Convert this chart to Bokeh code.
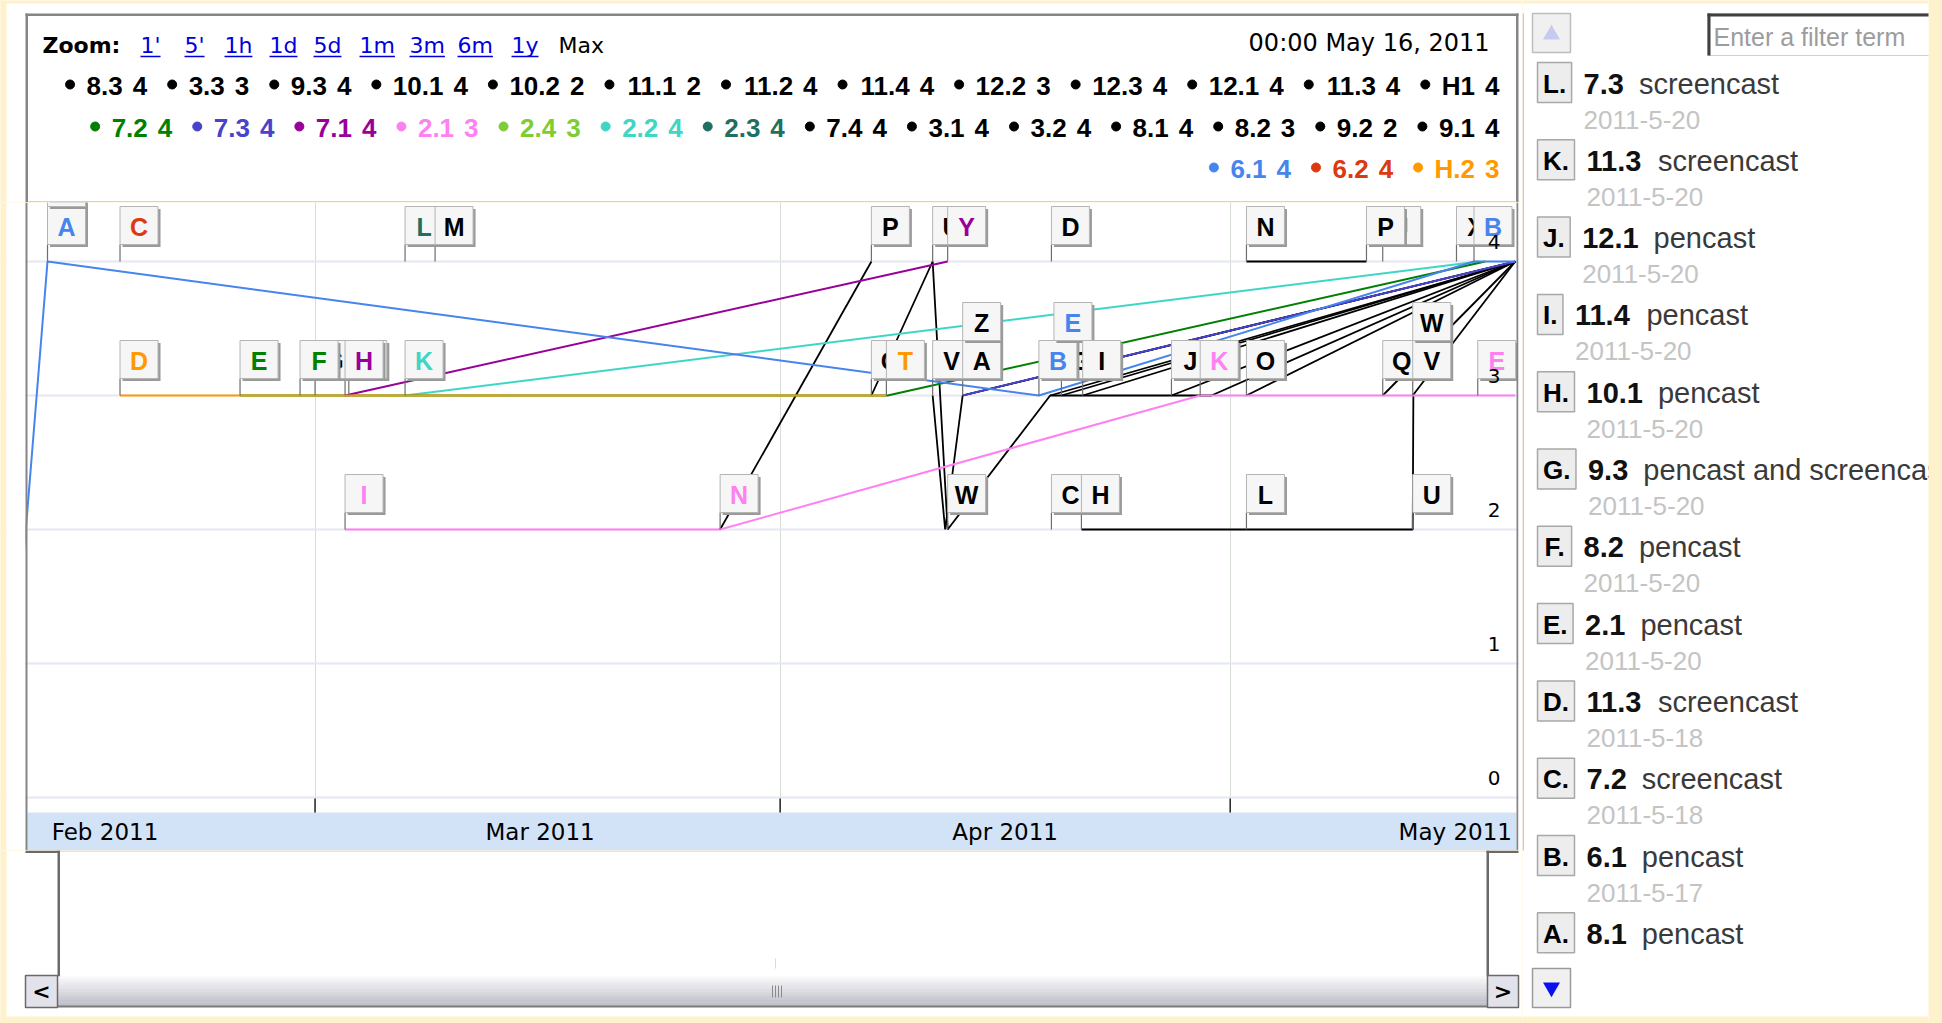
import numpy as np
import pandas as pd
from bokeh.plotting import figure
from bokeh.layouts import row, column
from bokeh.models import Range1d, FixedTicker
from bokeh.core.properties import value
from bokeh.embed import file_html
from bokeh.resources import INLINE

# ======================= DATA =======================
# each series: dates and values (status level 0..4)
s61_dates = ["2011-02-09", "2011-02-11 04:00", "2011-04-18 06:00", "2011-05-17 06:00", "2011-05-20"]
s61_vals = [1, 4, 3, 4, 4]
s62_dates = ["2011-02-16"]
s62_vals = [4]
sH2_dates = ["2011-02-16", "2011-04-08 02:00"]
sH2_vals = [3, 3]
s72_dates = ["2011-02-24", "2011-02-28", "2011-04-08 04:00", "2011-05-18"]
s72_vals = [3, 3, 3, 4]
s73_dates = ["2011-04-13 04:00", "2011-05-20"]
s73_vals = [3, 4]
s71_dates = ["2011-03-03", "2011-04-12 04:00"]
s71_vals = [3, 4]
s21_dates = ["2011-03-03", "2011-03-28", "2011-04-29", "2011-05-17 12:00", "2011-05-20"]
s21_vals = [2, 2, 3, 3, 3]
s24_dates = ["2011-05-20"]
s24_vals = [3]
s22_dates = ["2011-03-07", "2011-05-17 14:00"]
s22_vals = [3, 4]
s23_dates = ["2011-03-07"]
s23_vals = [4]
s74_dates = ["2011-04-07 02:00", "2011-04-11 04:00", "2011-04-12 04:00", "2011-04-19", "2011-05-20"]
s74_vals = [3, 4, 2, 3, 4]
s31_dates = ["2011-04-11 04:00", "2011-04-12", "2011-04-13 04:00", "2011-05-20"]
s31_vals = [3, 2, 3, 4]
s32_dates = ["2011-03-01"]
s32_vals = [3]
s81_dates = ["2011-04-13 04:00", "2011-05-20"]
s81_vals = [3, 4]
s82_dates = ["2011-04-19 18:00", "2011-05-20"]
s82_vals = [3, 4]
s92_dates = ["2011-04-19 02:00"]
s92_vals = [2]
s91_dates = ["2011-03-03 06:00"]
s91_vals = [3]
s83_dates = ["2011-03-09"]
s83_vals = [4]
s33_dates = ["2011-03-28", "2011-04-07 02:00"]
s33_vals = [2, 4]
s93_dates = ["2011-04-19", "2011-04-29 18:00", "2011-05-20"]
s93_vals = [3, 3, 4]
s101_dates = ["2011-04-21 04:00", "2011-05-20"]
s101_vals = [3, 4]
s102_dates = ["2011-04-21 02:00", "2011-05-02 02:00", "2011-05-13 04:00", "2011-05-13 05:00"]
s102_vals = [2, 2, 2, 3]
s111_dates = ["2011-05-02 02:00", "2011-05-20"]
s111_vals = [3, 4]
s112_dates = ["2011-05-02 02:00", "2011-05-10 02:00"]
s112_vals = [4, 4]
s114_dates = ["2011-05-11 04:00", "2011-05-20"]
s114_vals = [3, 4]
s122_dates = ["2011-04-27 02:00", "2011-05-20"]
s122_vals = [3, 4]
s123_dates = ["2011-05-13 04:00", "2011-05-20"]
s123_vals = [3, 4]
s121_dates = ["2011-04-19 02:00"]
s121_vals = [4]
s113_dates = ["2011-05-11 04:00"]
s113_vals = [4]
sH1_dates = ["2011-05-16 02:00"]
sH1_vals = [4]

# drawing order (first drawn = bottom)
SERIES = [
    ("8.3", s83_dates, s83_vals), ("3.3", s33_dates, s33_vals), ("9.3", s93_dates, s93_vals),
    ("10.1", s101_dates, s101_vals), ("10.2", s102_dates, s102_vals), ("11.1", s111_dates, s111_vals),
    ("11.2", s112_dates, s112_vals), ("11.4", s114_dates, s114_vals), ("12.2", s122_dates, s122_vals),
    ("12.3", s123_dates, s123_vals), ("12.1", s121_dates, s121_vals), ("11.3", s113_dates, s113_vals),
    ("H1", sH1_dates, sH1_vals), ("7.4", s74_dates, s74_vals), ("3.1", s31_dates, s31_vals),
    ("3.2", s32_dates, s32_vals), ("8.1", s81_dates, s81_vals), ("8.2", s82_dates, s82_vals),
    ("9.2", s92_dates, s92_vals), ("9.1", s91_dates, s91_vals), ("2.3", s23_dates, s23_vals),
    ("2.2", s22_dates, s22_vals), ("2.4", s24_dates, s24_vals), ("7.3", s73_dates, s73_vals),
    ("7.2", s72_dates, s72_vals), ("7.1", s71_dates, s71_vals), ("2.1", s21_dates, s21_vals),
    ("6.2", s62_dates, s62_vals), ("H.2", sH2_dates, sH2_vals), ("6.1", s61_dates, s61_vals),
]

# legend (reading order) with the values shown for the hovered date
LEGEND_NAMES = ["8.3", "3.3", "9.3", "10.1", "10.2", "11.1", "11.2", "11.4", "12.2", "12.3", "12.1", "11.3", "H1",
                "7.2", "7.3", "7.1", "2.1", "2.4", "2.2", "2.3", "7.4", "3.1", "3.2", "8.1", "8.2", "9.2", "9.1",
                "6.1", "6.2", "H.2"]
LEGEND_VALUES = [4, 3, 4, 4, 2, 2, 4, 4, 3, 4, 4, 4, 4,
                 4, 4, 4, 3, 3, 4, 4, 4, 4, 4, 4, 3, 2, 4,
                 4, 4, 3]
HOVER_DATE_TEXT = "00:00 May 16, 2011"

# annotation flags on the chart (listed in drawing order)
FLAG_SERIES = ["6.1", "6.1", "6.2", "H.2", "7.2", "3.2", "7.2", "9.1", "2.1", "7.1", "2.2", "2.3", "8.3",
               "2.1", "7.4", "3.3", "H.2", "7.4", "3.1", "7.4", "7.1", "8.1", "8.1", "8.2", "6.1", "6.1",
               "12.1", "9.2", "10.1", "10.2", "12.2", "2.1", "11.1", "11.2", "10.2", "11.3", "11.2",
               "11.4", "10.2", "12.3", "12.3", "H1", "6.1", "2.1"]
FLAG_DATES = ["2011-02-11 04:00", "2011-02-11 04:00", "2011-02-16", "2011-02-16", "2011-02-24",
              "2011-03-01", "2011-02-28", "2011-03-03 06:00", "2011-03-03", "2011-03-03", "2011-03-07",
              "2011-03-07", "2011-03-09", "2011-03-28", "2011-04-07 02:00", "2011-04-07 02:00",
              "2011-04-08 02:00", "2011-04-11 04:00", "2011-04-11 04:00", "2011-04-12 04:00",
              "2011-04-12 04:00", "2011-04-13 04:00", "2011-04-13 04:00", "2011-04-19 18:00",
              "2011-04-18 06:00", "2011-04-19 06:00", "2011-04-19 02:00", "2011-04-19 02:00",
              "2011-04-21 04:00", "2011-04-21 02:00", "2011-04-27 02:00", "2011-04-29", "2011-05-02 02:00",
              "2011-05-02 02:00", "2011-05-02 02:00", "2011-05-11 04:00", "2011-05-10 02:00",
              "2011-05-11 04:00", "2011-05-13 04:00", "2011-05-13 04:00", "2011-05-13 04:00",
              "2011-05-16 02:00", "2011-05-17 06:00", "2011-05-17 12:00"]
FLAG_LETTERS = ["A", "B", "C", "D", "E", "G", "F", "J", "I", "H", "K", "L", "M",
                "N", "O", "P", "T", "U", "V", "W", "Y", "A", "Z", "G", "B", "E",
                "D", "C", "I", "H", "J", "K", "O", "N", "L", "J", "P",
                "Q", "U", "V", "W", "X", "B", "E"]

# axis
MONTH_STARTS = ["2011-03-01", "2011-04-01", "2011-05-01"]
MONTH_LABEL_DATES = ["2011-02-15", "2011-03-16", "2011-04-16", "2011-05-16"]
MONTH_LABELS = ["Feb 2011", "Mar 2011", "Apr 2011", "May 2011"]
Y_TICKS = [0, 1, 2, 3, 4]
VIEW_START = "2011-02-09 20:00"
VIEW_END = "2011-05-20 02:00"

ZOOM_LINKS = ["1'", "5'", "1h", "1d", "5d", "1m", "3m", "6m", "1y"]

# annotation list (side panel)
ANNOT_LETTERS = ["L.", "K.", "J.", "I.", "H.", "G.", "F.", "E.", "D.", "C.", "B.", "A."]
ANNOT_NUMS = ["7.3", "11.3", "12.1", "11.4", "10.1", "9.3", "8.2", "2.1", "11.3", "7.2", "6.1", "8.1"]
ANNOT_TEXTS = ["screencast", "screencast", "pencast", "pencast", "pencast", "pencast and screencast",
               "pencast", "pencast", "screencast", "screencast", "pencast", "pencast"]
ANNOT_DATES = ["2011-5-20", "2011-5-20", "2011-5-20", "2011-5-20", "2011-5-20", "2011-5-20",
               "2011-5-20", "2011-5-20", "2011-5-18", "2011-5-18", "2011-5-17", "2011-5-17"]

# ======================= STYLE =======================
COLORS = {"6.1": "#4684EE", "6.2": "#DC3912", "H.2": "#FF9900", "7.2": "#008000", "7.3": "#4942CC",
          "7.1": "#990099", "2.1": "#FF80F0", "2.4": "#7FCC33", "2.2": "#3ED6C5", "2.3": "#1F6F62"}
DEFAULT_COLOR = "#000000"
CREAM = "#FFF1CC"
BORDER = "#858585"

ARIAL_B = {c: 0.556 for c in "0123456789"}
ARIAL_B.update({".": 0.278, " ": 0.278, "H": 0.722, "A": 0.722, "B": 0.722, "C": 0.722, "D": 0.722,
                "E": 0.667, "F": 0.611, "G": 0.778, "I": 0.278, "J": 0.556, "K": 0.722, "L": 0.611})
DEJAVU = {c: 0.636 for c in "0123456789"}
DEJAVU.update({"'": 0.275, "h": 0.634, "d": 0.635, "m": 0.974, "y": 0.592, "M": 0.863, "a": 0.613, "x": 0.592})


def tw(s, size, table):
    return sum(table.get(c, 0.6) for c in s) * size


def ms(d):
    return pd.Timestamp(d).value / 1e6


def col(name):
    return COLORS.get(name, DEFAULT_COLOR)


def px_fig(x0, x1, y0, y1, right_border=0, border_fill="white"):
    f = figure(width=int(x1 - x0 + right_border), height=int(y1 - y0),
               x_range=Range1d(x0, x1), y_range=Range1d(y1, y0),
               x_axis_location=None, y_axis_location=None, toolbar_location=None,
               output_backend="svg", min_border_left=0, min_border_right=right_border,
               min_border_top=0, min_border_bottom=0, outline_line_color=None, title=None,
               background_fill_color="white", border_fill_color=border_fill)
    f.grid.visible = False
    return f


def txt(f, xs, ys, texts, font="DejaVu Sans", size=20, color="#000000", align="left",
        baseline="middle", style="normal", x_offset=0, y_offset=0):
    f.text(x=list(xs), y=list(ys), text=list(texts), text_font=value(font),
           text_font_size=f"{size}px", text_color=color, text_align=align,
           text_baseline=baseline, text_font_style=style, x_offset=x_offset, y_offset=y_offset)


def box(f, x0, x1, y0, y1, fill, line=None, lw=1):
    f.quad(left=[x0], right=[x1], top=[y0], bottom=[y1], fill_color=fill,
           line_color=line, line_width=lw)


# ======================= LAYOUT (page pixels) =======================
PAGE_W, PAGE_H = 1940, 1021
SPLIT_X = 1522
WHITE_L, WHITE_T, WHITE_R, WHITE_B = 6, 3, 1928, 1016
BOX_L, BOX_R = 25, 1518
PLOT_L, PLOT_R = 27, 1516
FRAME_T, FRAME_B = 202, 850
Y0_PAGE, PX_UNIT = 797, 134.0

# ---------------- top area (zoom links + legend) ----------------
top = px_fig(0, SPLIT_X, 0, FRAME_T)
box(top, 0, SPLIT_X, 0, WHITE_T, CREAM)
box(top, 0, WHITE_L, 0, FRAME_T, CREAM)
box(top, BOX_L, BOX_R, 13, 15.5, BORDER)
box(top, BOX_L, BOX_L + 2.5, 13, FRAME_T, BORDER)
box(top, BOX_R - 2.5, BOX_R, 13, FRAME_T, BORDER)
box(top, PLOT_L + 0.5, PLOT_R, FRAME_T - 1.5, FRAME_T, "#D2D2D2")

txt(top, [42], [45], ["Zoom:"], size=22, style="bold")
ZOOM_X = [140, 184, 224, 269, 313, 359, 409, 457, 511]
txt(top, ZOOM_X, [45] * len(ZOOM_X), ZOOM_LINKS, size=22, color="#0000DD")
ul_x1 = [x + tw(t, 22, DEJAVU) for x, t in zip(ZOOM_X, ZOOM_LINKS)]
top.segment(x0=ZOOM_X, y0=[56] * len(ZOOM_X), x1=ul_x1, y1=[56] * len(ZOOM_X), line_color="#0000DD", line_width=1.5)
txt(top, [558], [45], ["Max"], size=22)
txt(top, [1489], [42], [HOVER_DATE_TEXT], size=24, align="right")

# legend rows, right-aligned, wrapped by available width
LEG_SIZE, G1, G2, G3, DOT = 26, 12, 10, 20.5, 9
LEG_RIGHT, LEG_MAXW = 1499, 1462
LEG_ROWS_Y = [84, 126, 167]
items = list(zip(LEGEND_NAMES, LEGEND_VALUES))
rows, cur, curw = [], [], 0
for nm, vl in items:
    w = DOT + G1 + tw(nm, LEG_SIZE, ARIAL_B) + G2 + tw(str(vl), LEG_SIZE, ARIAL_B)
    add = w + (G3 if cur else 0)
    if cur and curw + add > LEG_MAXW:
        rows.append(cur)
        cur, curw = [], 0
        add = w
    cur.append((nm, vl))
    curw += add
if cur:
    rows.append(cur)

dx, dy, dc = [], [], []
nx, ny, nt, nc = [], [], [], []
vx, vy, vt = [], [], []
for r, ry in zip(rows, LEG_ROWS_Y):
    c = LEG_RIGHT
    for nm, vl in reversed(r):
        vx.append(c); vy.append(ry); vt.append(str(vl)); nc.append(col(nm))
        c -= tw(str(vl), LEG_SIZE, ARIAL_B) + G2
        nx.append(c); ny.append(ry); nt.append(nm)
        c -= tw(nm, LEG_SIZE, ARIAL_B) + G1
        dx.append(c - DOT / 2); dy.append(ry); dc.append(col(nm))
        c -= DOT + G3
top.scatter(x=dx, y=dy, size=DOT, marker="circle", fill_color=dc, line_color=dc)
txt(top, nx, ny, nt, font="Liberation Sans", size=LEG_SIZE, style="bold", color=nc, align="right", y_offset=1)
txt(top, vx, vy, vt, font="Liberation Sans", size=LEG_SIZE, style="bold", color=nc, align="right", y_offset=1)

# ---------------- main plot ----------------
t_left, t_right = ms(VIEW_START), ms(VIEW_END)
ms_per_px = (t_right - t_left) / (PLOT_R - PLOT_L)


def X(page_x):
    return t_left + (page_x - PLOT_L) * ms_per_px


def v_of(page_y):
    return (Y0_PAGE - page_y) / PX_UNIT


main = figure(width=SPLIT_X, height=FRAME_B - FRAME_T, x_axis_type="datetime",
              x_range=Range1d(X(0), X(SPLIT_X)), y_range=Range1d(v_of(FRAME_B), v_of(FRAME_T)),
              x_axis_location=None, y_axis_location=None, toolbar_location=None, output_backend="svg",
              min_border_left=0, min_border_right=0, min_border_top=0, min_border_bottom=0,
              outline_line_color=None, title=None,
              background_fill_color="white", border_fill_color="white")
main.xgrid.ticker = FixedTicker(ticks=[ms(d) for d in MONTH_STARTS])
main.xgrid.grid_line_color = "#D5DDD5"
main.xgrid.grid_line_width = 1
main.ygrid.ticker = FixedTicker(ticks=Y_TICKS)
main.ygrid.grid_line_color = "#E6E6F4"
main.ygrid.grid_line_width = 2

# axis band
main.quad(left=[X(PLOT_L)], right=[X(PLOT_R)], bottom=[v_of(FRAME_B)], top=[v_of(812)],
          fill_color="#D3E3F7", line_color=None)
mticks = [ms(d) for d in MONTH_STARTS]
main.segment(x0=mticks, y0=[v_of(798)] * len(mticks), x1=mticks, y1=[v_of(812)] * len(mticks),
             line_color="#222222", line_width=1.5)
txt(main, [ms(d) for d in MONTH_LABEL_DATES], [v_of(831)] * len(MONTH_LABELS), MONTH_LABELS,
    size=23, align="center")

# series lines
series_map = {}
for name, ds, vs in SERIES:
    xs = [ms(d) for d in ds]
    series_map[name] = (xs, vs)
    main.line(x=xs, y=vs, line_color=col(name), line_width=2 if name in COLORS else 1.8)


def series_value_at(name, t):
    xs, vs = series_map[name]
    for x, v in zip(xs, vs):
        if x == t:
            return v
    return float(np.interp(t, xs, vs))


# flags: overlapping flags of the same series at the same level are stacked
STEM, FB = 17, 38
flags = []
for s, d, l in zip(FLAG_SERIES, FLAG_DATES, FLAG_LETTERS):
    t = ms(d)
    v = series_value_at(s, t)
    k, base = 0, v
    for (s2, t2, v2, k2, b2, l2) in flags:
        if s2 == s and abs(t2 - t) < FB * ms_per_px and abs(b2 - v) < 0.3:
            k = max(k, k2 + 1)
            base = b2
    flags.append((s, t, v, k, base, l))

base_f = [f for f in flags if f[3] == 0]
main.segment(x0=[f[1] for f in base_f], y0=[f[2] for f in base_f], x1=[f[1] for f in base_f],
             y1=[f[2] + STEM / PX_UNIT for f in base_f], line_color="#6E6E6E", line_width=1.2)
for s, t, v, k, base, l in flags:
    off = STEM + FB / 2 + FB * k
    xc = t + (FB / 2) * ms_per_px
    yc = base + off / PX_UNIT
    main.rect(x=[xc + 2.5 * ms_per_px], y=[yc - 2.5 / PX_UNIT], width=FB, height=FB,
              width_units="screen", height_units="screen", fill_color="#9A9A9A", line_color=None)
    main.rect(x=[xc], y=[yc], width=FB, height=FB, width_units="screen", height_units="screen",
              fill_color="#F6F6F6", line_color="#B4B4B4", line_width=1)
    if Y0_PAGE - yc * PX_UNIT > FRAME_T + 8:      # letter lies inside the visible plot
        txt(main, [t], [base], [l], font="Liberation Sans", size=25, style="bold", color=col(s),
            align="center", x_offset=FB / 2, y_offset=-off + 1)

# y tick labels (inside, right)
txt(main, [t_right] * len(Y_TICKS), Y_TICKS, [str(y) for y in Y_TICKS], size=20, align="right",
    x_offset=-16, y_offset=-20)

# page background, white margin and chart box side borders
yb, yt = v_of(FRAME_B), v_of(FRAME_T)
main.quad(left=[X(0), X(WHITE_L), X(BOX_L), X(PLOT_R), X(BOX_R)],
          right=[X(WHITE_L), X(BOX_L), X(PLOT_L), X(BOX_R), X(SPLIT_X)],
          bottom=[yb] * 5, top=[yt] * 5,
          fill_color=[CREAM, "white", BORDER, BORDER, "white"], line_color=None)

# ---------------- bottom (range selector + scrollbar) ----------------
bot = px_fig(0, SPLIT_X, FRAME_B, PAGE_H)
box(bot, 0, WHITE_L, FRAME_B, PAGE_H, CREAM)
box(bot, 0, SPLIT_X, WHITE_B, PAGE_H, CREAM)
box(bot, 59, 1486, 850, 851, "#C8C8C8")
box(bot, BOX_L, 59.5, 850, 852.5, "#6A6A6A")
box(bot, 1486, BOX_R, 850, 852.5, "#6A6A6A")
box(bot, 57, 59.5, 850, 976, "#6A6A6A")
box(bot, 1486, 1488.5, 850, 976, "#6A6A6A")
c_top, c_bot = (248, 248, 250), (188, 188, 198)
n = 14
for i in range(n):
    y0 = 976 + i * 30.0 / n
    cc = "#%02x%02x%02x" % tuple(int(round(a + (b - a) * i / (n - 1))) for a, b in zip(c_top, c_bot))
    box(bot, 57, 1487, y0, y0 + 30.0 / n + 0.3, cc)
box(bot, BOX_L, BOX_R, 1005, 1007, "#7A7A7A")
box(bot, BOX_L, 57, 975, 1007, "#E2E2EA", "#6A6A6A", 1.5)
box(bot, 1487, BOX_R, 975, 1007, "#E2E2EA", "#6A6A6A", 1.5)
txt(bot, [41], [991], ["<"], size=22, style="bold", align="center")
txt(bot, [1502.5], [991], [">"], size=22, style="bold", align="center")
gx = [772, 775, 778, 781]
bot.segment(x0=gx, y0=[985] * 4, x1=gx, y1=[997] * 4, line_color="#8A8A8A", line_width=1)
bot.segment(x0=[775], y0=[958], x1=[775], y1=[968], line_color="#D8DCD8", line_width=1)

# ---------------- right panel (annotation list) ----------------
right = px_fig(SPLIT_X, WHITE_R, 0, PAGE_H, right_border=PAGE_W - WHITE_R, border_fill=CREAM)
box(right, SPLIT_X, WHITE_R, 0, WHITE_T, CREAM)
box(right, SPLIT_X, WHITE_R, WHITE_B, PAGE_H, CREAM)
box(right, 1522, 1523.5, 13, 850, "#C8C8C8")
box(right, 1532, 1570, 13, 52, "#F0F0F0", "#BDBDBD", 1.5)
right.scatter(x=[1551], y=[34], marker="triangle", size=17, fill_color="#C6C9F2", line_color=None)
box(right, 1707, 1930, 13, 55, "white", "#D0D0D0", 1)
box(right, 1707, 1930, 13, 16, "#404040")
box(right, 1707, 1710, 13, 55, "#404040")
txt(right, [1713], [36], ["Enter a filter term"], font="Liberation Sans", size=25, color="#9C9C9C")

LIST_TOP, LIST_PITCH, LIST_BOTTOM = 82, 77.3, 962
for i, (lt, nm, tx, dt) in enumerate(zip(ANNOT_LETTERS, ANNOT_NUMS, ANNOT_TEXTS, ANNOT_DATES)):
    cy = LIST_TOP + i * LIST_PITCH
    bw = tw(lt, 26, ARIAL_B) + 11
    box(right, 1537, 1537 + bw, cy - 20, cy + 20, "#EDEDED", "#A8A8A8", 1.5)
    txt(right, [1537 + bw / 2], [cy + 1], [lt], font="Liberation Sans", size=26, style="bold", align="center")
    nx0 = 1537 + bw + 12
    txt(right, [nx0], [cy + 1], [nm], font="Liberation Sans", size=29, style="bold", color="#111111")
    txt(right, [nx0 + tw(nm, 29, ARIAL_B) + 15], [cy + 1], [tx], font="Liberation Sans", size=29,
        color="#3A3A3A")
    if cy + 46 < LIST_BOTTOM:
        txt(right, [nx0], [cy + 37], [dt], font="Liberation Sans", size=26, color="#C4C4C4")
box(right, 1532, 1570, 968, 1007, "#F0F0F0", "#9A9A9A", 1.5)
right.scatter(x=[1551], y=[987], marker="inverted_triangle", size=17, fill_color="#0A10F0", line_color=None)

layout = row(column(top, main, bot), right)

html = file_html(layout, INLINE, title="Annotated timeline")
i = html.find("</head>")
j = html.find("<body", i if i >= 0 else 0)
if i >= 0 and j >= 0:
    k = html.find(">", j)
    html = html[:k] + ' style="background-color:%s;"' % CREAM + html[k:]
open("out.html", "w").write(html)
